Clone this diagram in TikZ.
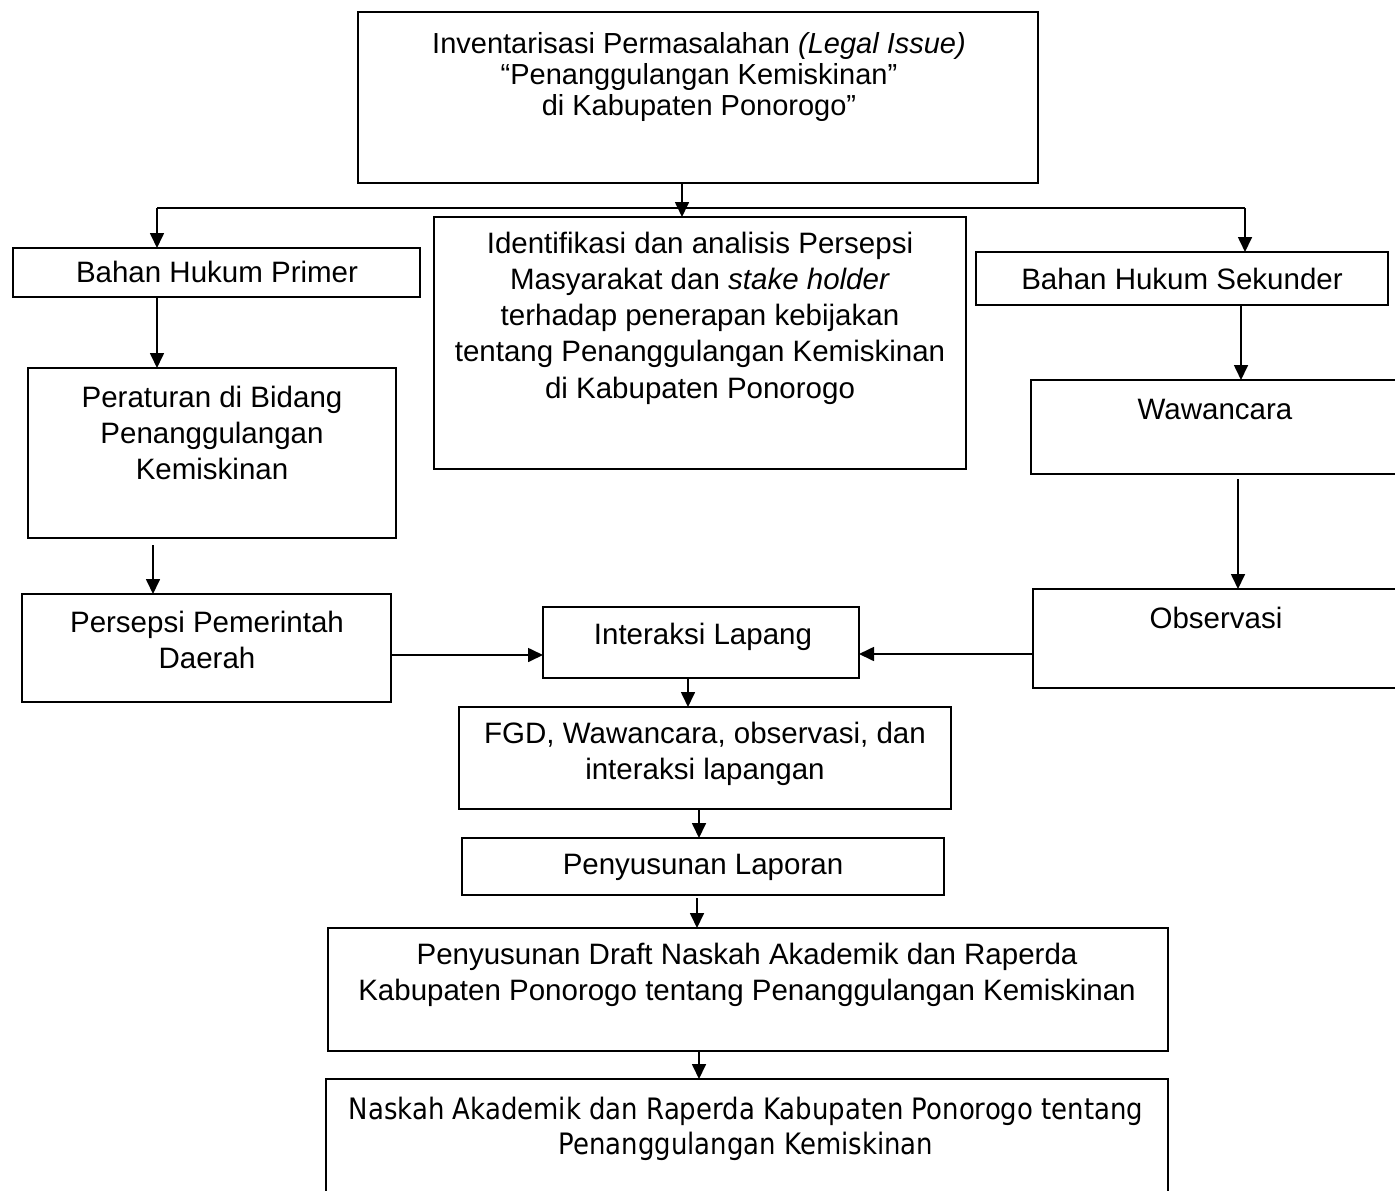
\documentclass[tikz,border=0pt]{standalone}
\usepackage{fontspec}
\setmainfont{Liberation Sans}
\newfontfamily\tahoma[FakeStretch=0.88]{DejaVu Sans}
\usetikzlibrary{arrows.meta}
\tikzset{
  boxst/.style={draw=black, line width=1.7pt, inner sep=0pt, outer sep=0pt, fill=none},
  txt/.style={inner sep=0pt, align=center, font=\fontsize{29.5}{36.3}\selectfont},
  arr/.style={line width=1.7pt, -{Triangle[length=15pt,width=14pt]}},
  ln/.style={line width=1.7pt}
}
\newcommand{\mkbox}[5]{%
  \pgfmathsetmacro{\bw}{#4-#2}\pgfmathsetmacro{\bh}{#5-#3}%
  \node[boxst, minimum width=\bw pt, minimum height=\bh pt] (#1) at ({(#2+#4)/2},{(#3+#5)/2}) {};}
\begin{document}
\begin{tikzpicture}[x=1pt,y=-1pt]
\useasboundingbox (0,0) rectangle (1395,1191);
\fill[white] (0,0) rectangle (1395,1191);
\begin{scope}
\clip (0,0) rectangle (1395,1191);
% boxes
\mkbox{top}{358}{12}{1038}{183}
\mkbox{prim}{13}{248}{420}{297}
\mkbox{mid}{434}{217}{966}{469}
\mkbox{sek}{976}{252}{1388}{305}
\mkbox{per}{28}{368}{396}{538}
\mkbox{pers}{22}{594}{391}{702}
\mkbox{waw}{1031}{380}{1420}{474}
\mkbox{obs}{1033}{589}{1420}{688}
\mkbox{inter}{543}{607}{859}{678}
\mkbox{fgd}{459}{707}{951}{809}
\mkbox{lap}{462}{838}{944}{895}
\mkbox{draft}{328}{928}{1168}{1051}
\mkbox{nas}{326}{1079}{1168}{1215}
\end{scope}
% texts
\node[txt, font=\fontsize{29}{31}\selectfont] (ttop) at (699,77) {Inventarisasi Permasalahan \textit{(Legal Issue)}\\“Penanggulangan Kemiskinan”\\di Kabupaten Ponorogo”};
\node[txt] (tprim) at (217,272) {Bahan Hukum Primer};
\node[txt] (tmid) at (700,318) {Identifikasi dan analisis Persepsi\\Masyarakat dan \textit{stake holder}\\terhadap penerapan kebijakan\\tentang Penanggulangan Kemiskinan\\di Kabupaten Ponorogo};
\node[txt] (tsek) at (1182,279) {Bahan Hukum Sekunder};
\node[txt] (tper) at (212,433) {Peraturan di Bidang\\Penanggulangan\\Kemiskinan};
\node[txt] (tpers) at (207,640) {Persepsi Pemerintah\\Daerah};
\node[txt] (twaw) at (1215,409) {Wawancara};
\node[txt] (tobs) at (1216,618) {Observasi};
\node[txt] (tinter) at (703,637) {Interaksi Lapang};
\node[txt] (tfgd) at (705,754) {FGD, Wawancara, observasi, dan\\interaksi lapangan};
\node[txt] (tlap) at (703,867) {Penyusunan Laporan};
\node[txt] (tdraft) at (747,975) {Penyusunan Draft Naskah Akademik dan Raperda\\Kabupaten Ponorogo tentang Penanggulangan Kemiskinan};
\node[txt, font=\tahoma\fontsize{29.5}{35}\selectfont] (tnas) at (746,1129) {Naskah Akademik dan Raperda Kabupaten Ponorogo tentang\\Penanggulangan Kemiskinan};
% connectors
\coordinate (jl) at (157,208);
\coordinate (jr) at (1245,208);
\coordinate (jm) at (682,208);
\draw[ln] (jl) -- (jr);
\draw[arr] (top.south -| jm) -- (mid.north -| jm);
\draw[arr] (jl) -- (prim.north -| jl);
\draw[arr] (jr) -- (sek.north -| jr);
\coordinate (c1) at (157,0);
\draw[arr] (prim.south -| c1) -- (per.north -| c1);
\coordinate (c2) at (153,545);
\draw[arr] (c2) -- (pers.north -| c2);
\coordinate (c3) at (1241,0);
\draw[arr] (sek.south -| c3) -- (waw.north -| c3);
\coordinate (c4) at (1238,479);
\draw[arr] (c4) -- (obs.north -| c4);
\coordinate (r1) at (0,655);
\draw[arr] (pers.east |- r1) -- (inter.west |- r1);
\coordinate (r2) at (0,654);
\draw[arr] (obs.west |- r2) -- (inter.east |- r2);
\coordinate (c5) at (688,0);
\draw[arr] (inter.south -| c5) -- (fgd.north -| c5);
\coordinate (c6) at (699,0);
\draw[arr] (fgd.south -| c6) -- (lap.north -| c6);
\coordinate (c7) at (697,898);
\draw[arr] (c7) -- (draft.north -| c7);
\coordinate (c8) at (699,0);
\draw[arr] (draft.south -| c8) -- (nas.north -| c8);
\end{tikzpicture}
\end{document}
